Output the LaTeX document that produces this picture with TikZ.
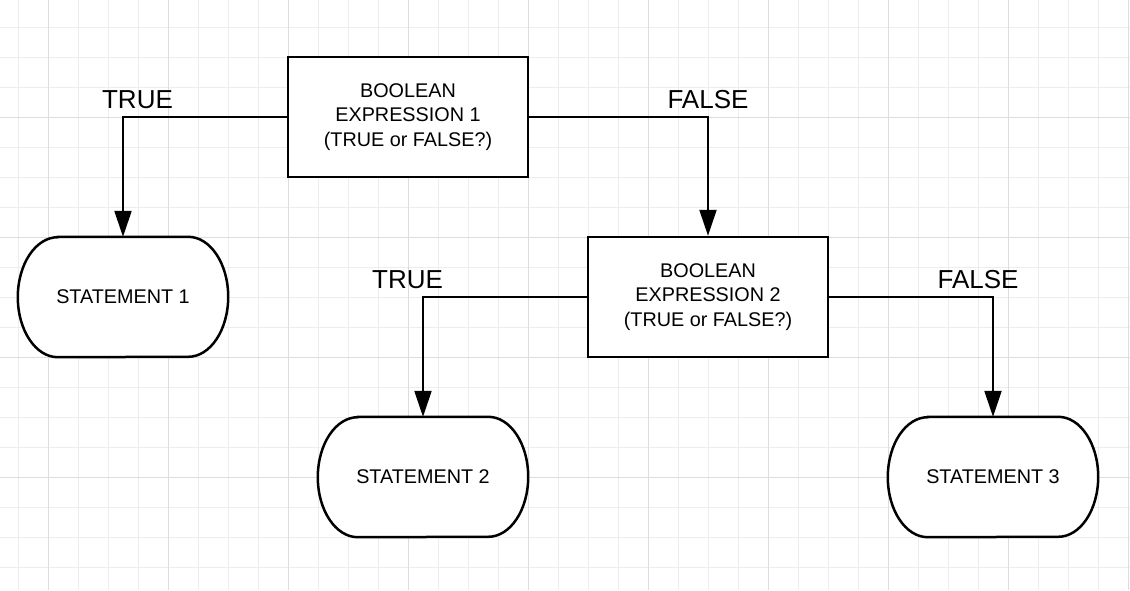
\documentclass[tikz,border=0pt]{standalone}
\usepackage{fontspec}
\setmainfont{Liberation Sans}
\usetikzlibrary{arrows.meta}
\definecolor{gridminor}{HTML}{EDEDED}
\definecolor{gridmajor}{HTML}{DDDDDD}
\begin{document}
\begin{tikzpicture}[x=1pt,y=-1pt,
  minorgrid/.style={draw=gridminor,line width=1pt},
  majorgrid/.style={draw=gridmajor,line width=1pt},
  boxnode/.style={draw,fill=white,line width=2.5pt,minimum width=240pt,minimum height=120pt,inner sep=0pt,align=center,font=\fontsize{19.8}{24.5}\selectfont},
  stadnode/.style={minimum width=210pt,minimum height=120pt,inner sep=0pt,align=center,font=\fontsize{19.8}{24.5}\selectfont},
  stadline/.style={draw,fill=white,line width=2.5pt},
  conn/.style={draw,line width=2.2pt,-{Triangle[length=26pt,width=17pt]}},
  lbl/.style={anchor=base,inner sep=0pt,font=\fontsize{26}{30}\selectfont}
]
\useasboundingbox (0,0) rectangle (1130,590);
\fill[white] (0,0) rectangle (1130,590);
\foreach \x in {18,48,...,1128} \draw[minorgrid] (\x,0) -- (\x,590);
\foreach \y in {27,57,...,587} \draw[minorgrid] (0,\y) -- (1130,\y);
\foreach \x in {48,168,...,1128} \draw[majorgrid] (\x,0) -- (\x,590);
\foreach \y in {117,237,357,477} \draw[majorgrid] (0,\y) -- (1130,\y);

\newcommand{\stadiumshape}[1]{%
  \path[stadline] ([xshift=40pt]#1.north west) -- ([xshift=-40pt]#1.north east)
    arc[start angle=90,end angle=-90,x radius=40pt,y radius=60pt]
    -- ([xshift=40pt]#1.south west)
    arc[start angle=270,end angle=90,x radius=40pt,y radius=60pt] -- cycle;}

\node[boxnode] (b1) at (408,117) {BOOLEAN\\EXPRESSION 1\\(TRUE or FALSE?)};
\node[boxnode] (b2) at (708,297) {BOOLEAN\\EXPRESSION 2\\(TRUE or FALSE?)};

\node[stadnode] (s1) at (123,297) {};
\stadiumshape{s1}
\node[stadnode] at (s1.center) {STATEMENT 1};
\node[stadnode] (s2) at (423,477) {};
\stadiumshape{s2}
\node[stadnode] at (s2.center) {STATEMENT 2};
\node[stadnode] (s3) at (993,477) {};
\stadiumshape{s3}
\node[stadnode] at (s3.center) {STATEMENT 3};

\draw[conn] (b1.west) -| (s1.north);
\draw[conn] (b1.east) -| (b2.north);
\draw[conn] (b2.west) -| (s2.north);
\draw[conn] (b2.east) -| (s3.north);

\node[lbl] (t1) at (137.5,108) {TRUE};
\node[lbl] (f1) at (708,108) {FALSE};
\node[lbl] (t2) at (407.5,288) {TRUE};
\node[lbl] (f2) at (978,288) {FALSE};
\end{tikzpicture}
\end{document}
